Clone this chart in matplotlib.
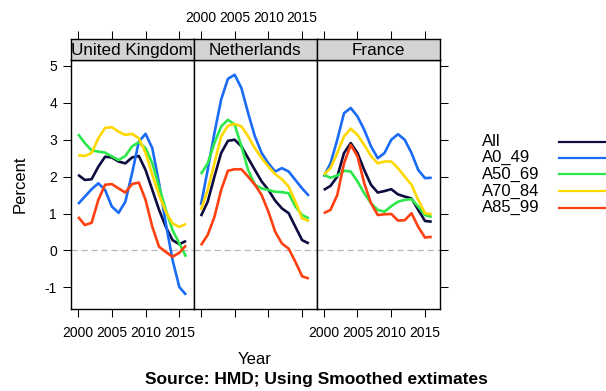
import matplotlib
matplotlib.use("Agg")
import matplotlib.pyplot as plt
from matplotlib.lines import Line2D
import numpy as np

W, H = 606, 391
FONT = "Liberation Sans"

years = list(range(2000, 2017))
countries = ["United Kingdom", "Netherlands", "France"]
groups = ["All", "A0_49", "A50_69", "A70_84", "A85_99"]
colors = ["#0c0c40", "#1a6bf5", "#2de84a", "#ffd800", "#ff4010"]

uk_all = [2.05, 1.91, 1.93, 2.27, 2.54, 2.52, 2.41, 2.36, 2.52, 2.56, 2.18, 1.64, 1.10, 0.64, 0.28, 0.17, 0.26]
uk_a0_49 = [1.26, 1.46, 1.66, 1.82, 1.64, 1.19, 1.02, 1.32, 2.09, 2.95, 3.16, 2.77, 1.82, 0.73, -0.26, -0.99, -1.20]
uk_a50_69 = [3.15, 2.91, 2.71, 2.68, 2.65, 2.55, 2.45, 2.56, 2.82, 2.93, 2.77, 2.36, 1.73, 1.10, 0.55, 0.19, -0.17]
uk_a70_84 = [2.58, 2.56, 2.64, 3.04, 3.32, 3.34, 3.22, 3.13, 3.16, 3.04, 2.64, 2.05, 1.50, 1.05, 0.73, 0.64, 0.72]
uk_a85_99 = [0.91, 0.69, 0.75, 1.37, 1.78, 1.80, 1.68, 1.57, 1.80, 1.84, 1.37, 0.64, 0.10, -0.04, -0.17, -0.06, 0.14]

nl_all = [0.93, 1.32, 2.00, 2.64, 2.97, 3.00, 2.82, 2.50, 2.18, 1.87, 1.64, 1.35, 1.14, 1.01, 0.64, 0.28, 0.19]
nl_a0_49 = [1.23, 2.18, 3.18, 4.09, 4.65, 4.76, 4.40, 3.72, 3.09, 2.64, 2.36, 2.14, 2.23, 2.14, 1.91, 1.68, 1.48]
nl_a50_69 = [2.07, 2.36, 2.91, 3.36, 3.54, 3.41, 2.82, 2.18, 1.78, 1.68, 1.64, 1.59, 1.58, 1.55, 1.19, 0.96, 0.87]
nl_a70_84 = [1.10, 1.64, 2.36, 3.09, 3.38, 3.43, 3.36, 3.09, 2.77, 2.50, 2.27, 2.07, 1.93, 1.73, 1.32, 0.87, 0.80]
nl_a85_99 = [0.14, 0.42, 0.91, 1.64, 2.16, 2.20, 2.20, 2.00, 1.78, 1.50, 1.05, 0.51, 0.19, 0.05, -0.31, -0.70, -0.76]

fr_all = [1.64, 1.75, 2.00, 2.64, 2.91, 2.64, 2.18, 1.78, 1.57, 1.61, 1.66, 1.52, 1.46, 1.41, 1.10, 0.80, 0.78]
fr_a0_49 = [2.00, 2.36, 3.00, 3.72, 3.86, 3.63, 3.27, 2.82, 2.50, 2.64, 3.00, 3.15, 3.00, 2.64, 2.18, 1.96, 1.97]
fr_a50_69 = [2.05, 1.97, 2.03, 2.16, 2.14, 1.87, 1.55, 1.28, 1.10, 1.05, 1.20, 1.32, 1.37, 1.39, 1.19, 0.96, 0.91]
fr_a70_84 = [2.05, 2.23, 2.64, 3.09, 3.30, 3.13, 2.86, 2.56, 2.36, 2.41, 2.41, 2.23, 2.00, 1.78, 1.37, 1.01, 0.98]
fr_a85_99 = [1.01, 1.10, 1.50, 2.36, 2.86, 2.55, 1.82, 1.28, 0.96, 0.98, 0.99, 0.81, 0.82, 1.01, 0.64, 0.35, 0.37]

panel_data = [
    [uk_all, uk_a0_49, uk_a50_69, uk_a70_84, uk_a85_99],
    [nl_all, nl_a0_49, nl_a50_69, nl_a70_84, nl_a85_99],
    [fr_all, fr_a0_49, fr_a50_69, fr_a70_84, fr_a85_99],
]

x_ticks = [2000, 2005, 2010, 2015]
y_ticks = [-1, 0, 1, 2, 3, 4, 5]
XLIM = (1998.95, 2017.15)
YLIM = (-1.585, 5.16)

plt.rcParams.update({
    "font.family": [FONT, "DejaVu Sans"],
    "font.size": 10,
    "axes.unicode_minus": False,
})

fig = plt.figure(figsize=(W / 100, H / 100), dpi=100)


def fx(px):
    return px / W


def fy(py):
    return 1 - py / H


left0, right0 = 71.0, 439.5
pw = (right0 - left0) / 3
top_panel, bot_panel = 60.0, 309.0
strip_top = 39.3

for i, (name, series) in enumerate(zip(countries, panel_data)):
    x0 = left0 + i * pw
    ax = fig.add_axes([fx(x0), fy(bot_panel), pw / W, (bot_panel - top_panel) / H])
    ax.axhline(0, color="#b8b8b8", lw=0.9, ls=(0, (5, 3)), zorder=1)
    for vals, c in zip(series, colors):
        ax.plot(years, vals, color=c, lw=1.9, solid_capstyle="butt", zorder=2)
    ax.set_xlim(*XLIM)
    ax.set_ylim(*YLIM)
    ax.set_xticks(x_ticks)
    ax.set_yticks(y_ticks)
    ax.tick_params(direction="out", length=5.5, width=0.75, colors="black", labelsize=10)
    ax.tick_params(axis="x", pad=7, labelbottom=(i != 1))
    ax.tick_params(axis="y", pad=4.5, left=(i == 0), labelleft=(i == 0),
                   right=(i == 2), labelright=False)
    for s in ax.spines.values():
        s.set_linewidth(1.0)

    # strip with the country name, top ticks live here
    sx = fig.add_axes([fx(x0), fy(top_panel), pw / W, (top_panel - strip_top) / H])
    sx.set_facecolor("#d3d3d3")
    sx.set_xlim(*XLIM)
    sx.set_xticks(x_ticks)
    sx.set_yticks([])
    sx.tick_params(axis="x", direction="out", length=5.5, width=0.75, bottom=False,
                   labelbottom=False, top=True, labeltop=(i == 1), labelsize=10, pad=5)
    for s in sx.spines.values():
        s.set_linewidth(1.0)
    sx.text(0.5, 0.45, name, transform=sx.transAxes, ha="center", va="center", fontsize=12.3)

fig.text(fx(20), fy(184), "Percent", rotation=90, ha="center", va="center", fontsize=12)
fig.text(fx(255), fy(359), "Year", ha="center", va="center", fontsize=12)
fig.text(fx(316.5), fy(379.5), "Source: HMD; Using Smoothed extimates",
         ha="center", va="center", fontsize=12.5, fontweight="bold")

leg_y = [141.5, 157.8, 174.3, 191.0, 207.5]
for lab, c, y in zip(groups, colors, leg_y):
    fig.text(fx(481.7), fy(y), lab, ha="left", va="center", fontsize=12)
    fig.add_artist(Line2D([fx(559.3), fx(620)], [fy(y), fy(y)], color=c, lw=1.6,
                          transform=fig.transFigure))

fig.savefig("out.png", dpi=100)
